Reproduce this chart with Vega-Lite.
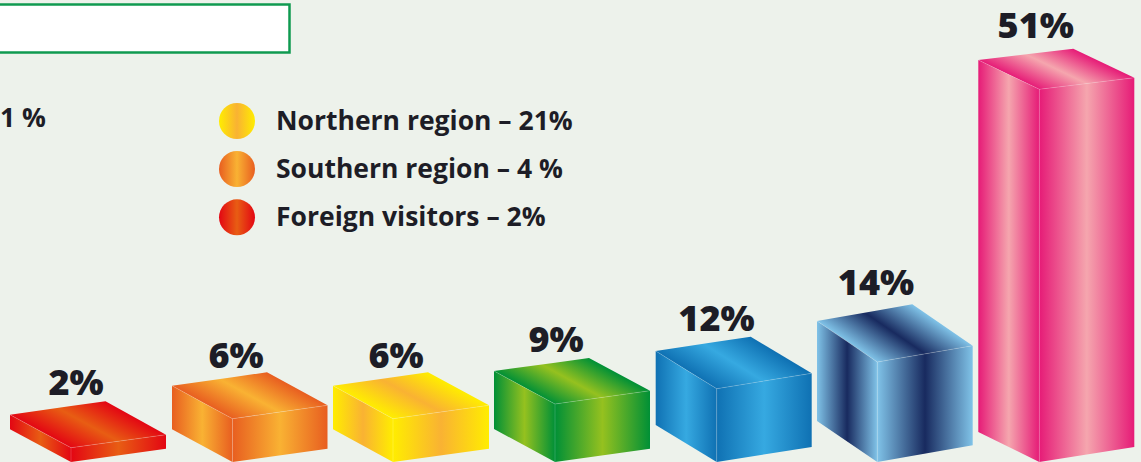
{"$schema":"https://vega.github.io/schema/vega-lite/v6.json","width":1141,"height":462,"padding":0,"autosize":"none","background":"#edf2eb","config":{"view":{"stroke":null}},
"datasets":{
"faces":[
{"id":"a_t","x":10,"y":414.7,"y2":414.7},{"id":"a_t","x":71,"y":406.1,"y2":447.7},{"id":"a_t","x":105.5,"y":401.3,"y2":443.0},{"id":"a_t","x":166,"y":434.7,"y2":434.7},
{"id":"a_l","x":10,"y":414.7,"y2":429.3},{"id":"a_l","x":71,"y":447.7,"y2":462},
{"id":"a_r","x":71,"y":447.7,"y2":462},{"id":"a_r","x":166,"y":434.7,"y2":448.7},
{"id":"b_t","x":172,"y":385.7,"y2":385.7},{"id":"b_t","x":232.5,"y":377.2,"y2":418.7},{"id":"b_t","x":267,"y":372.3,"y2":413.8},{"id":"b_t","x":327.5,"y":405.3,"y2":405.3},
{"id":"b_l","x":172,"y":385.7,"y2":429.3},{"id":"b_l","x":232.5,"y":418.7,"y2":462},
{"id":"b_r","x":232.5,"y":418.7,"y2":462},{"id":"b_r","x":327.5,"y":405.3,"y2":448.7},
{"id":"c_t","x":333,"y":385.7,"y2":385.7},{"id":"c_t","x":393,"y":377.2,"y2":418.7},{"id":"c_t","x":428,"y":372.3,"y2":413.8},{"id":"c_t","x":489,"y":405.3,"y2":405.3},
{"id":"c_l","x":333,"y":385.7,"y2":429.3},{"id":"c_l","x":393,"y":418.7,"y2":462},
{"id":"c_r","x":393,"y":418.7,"y2":462},{"id":"c_r","x":489,"y":405.3,"y2":448.7},
{"id":"d_t","x":494,"y":371,"y2":371},{"id":"d_t","x":555,"y":362.7,"y2":404},{"id":"d_t","x":589,"y":358,"y2":399.2},{"id":"d_t","x":650,"y":390.7,"y2":390.7},
{"id":"d_l","x":494,"y":371,"y2":429},{"id":"d_l","x":555,"y":404,"y2":462},
{"id":"d_r","x":555,"y":404,"y2":462},{"id":"d_r","x":650,"y":390.7,"y2":448.7},
{"id":"e_t","x":655.7,"y":351,"y2":351},{"id":"e_t","x":716.7,"y":341.8,"y2":388.7},{"id":"e_t","x":750.7,"y":336.7,"y2":383.2},{"id":"e_t","x":811.7,"y":373.3,"y2":373.3},
{"id":"e_l","x":655.7,"y":351,"y2":425},{"id":"e_l","x":716.7,"y":388.7,"y2":462},
{"id":"e_r","x":716.7,"y":388.7,"y2":462},{"id":"e_r","x":811.7,"y":373.3,"y2":447},
{"id":"f_t","x":817,"y":321,"y2":321},{"id":"f_t","x":877.3,"y":310.4,"y2":362},{"id":"f_t","x":912.3,"y":304.3,"y2":356},{"id":"f_t","x":972.7,"y":345.7,"y2":345.7},
{"id":"f_l","x":817,"y":321,"y2":421},{"id":"f_l","x":877.3,"y":362,"y2":462},
{"id":"f_r","x":877.3,"y":362,"y2":462},{"id":"f_r","x":972.7,"y":345.7,"y2":445.3},
{"id":"g_t","x":978.3,"y":60,"y2":60},{"id":"g_t","x":1039.3,"y":52.7,"y2":89.3},{"id":"g_t","x":1073.3,"y":48.7,"y2":85.2},{"id":"g_t","x":1134.3,"y":77.7,"y2":77.7},
{"id":"g_l","x":978.3,"y":60,"y2":432},{"id":"g_l","x":1039.3,"y":89.3,"y2":462},
{"id":"g_r","x":1039.3,"y":89.3,"y2":462},{"id":"g_r","x":1134.3,"y":77.7,"y2":447}
],
"edges":[
{"e":"a1","i":1,"x":10,"y":414.7},{"e":"a1","i":2,"x":71,"y":447.7},{"e":"a1","i":3,"x":166,"y":434.7},{"e":"a2","i":1,"x":71,"y":447.7},{"e":"a2","i":2,"x":71,"y":462},
{"e":"b1","i":1,"x":172,"y":385.7},{"e":"b1","i":2,"x":232.5,"y":418.7},{"e":"b1","i":3,"x":327.5,"y":405.3},{"e":"b2","i":1,"x":232.5,"y":418.7},{"e":"b2","i":2,"x":232.5,"y":462},
{"e":"c1","i":1,"x":333,"y":385.7},{"e":"c1","i":2,"x":393,"y":418.7},{"e":"c1","i":3,"x":489,"y":405.3},{"e":"c2","i":1,"x":393,"y":418.7},{"e":"c2","i":2,"x":393,"y":462},
{"e":"d1","i":1,"x":494,"y":371},{"e":"d1","i":2,"x":555,"y":404},{"e":"d1","i":3,"x":650,"y":390.7},{"e":"d2","i":1,"x":555,"y":404},{"e":"d2","i":2,"x":555,"y":462},
{"e":"e1","i":1,"x":655.7,"y":351},{"e":"e1","i":2,"x":716.7,"y":388.7},{"e":"e1","i":3,"x":811.7,"y":373.3},{"e":"e2","i":1,"x":716.7,"y":388.7},{"e":"e2","i":2,"x":716.7,"y":462},
{"e":"f1","i":1,"x":817,"y":321},{"e":"f1","i":2,"x":877.3,"y":362},{"e":"f1","i":3,"x":972.7,"y":345.7},{"e":"f2","i":1,"x":877.3,"y":362},{"e":"f2","i":2,"x":877.3,"y":462},
{"e":"g1","i":1,"x":978.3,"y":60},{"e":"g1","i":2,"x":1039.3,"y":89.3},{"e":"g1","i":3,"x":1134.3,"y":77.7},{"e":"g2","i":1,"x":1039.3,"y":89.3},{"e":"g2","i":2,"x":1039.3,"y":462}
],
"bars":[{"t":"2%","x":76,"y":395},{"t":"6%","x":236,"y":368},{"t":"6%","x":396,"y":368},{"t":"9%","x":556,"y":352},{"t":"12%","x":716.5,"y":331},{"t":"14%","x":876,"y":295},{"t":"51%","x":1035.7,"y":38}],
"legend":[{"t":"Northern region – 21%","x":276,"y":130,"cx":237,"cy":121,"k":"n"},{"t":"Southern region – 4 %","x":276,"y":178,"cx":237,"cy":169,"k":"s"},{"t":"Foreign visitors – 2%","x":276,"y":225.5,"cx":237,"cy":217.3,"k":"f"}],
"stub":[{"t":"1 %","x":0,"y":126.5}],
"box":[{"x":-5,"x2":289.5,"y":4.5,"y2":52.5}]
},
"data":{"name":"faces"},
"encoding":{"x":{"field":"x","type":"quantitative","axis":null,"scale":{"domain":[0,1141],"nice":false,"zero":false}},"y":{"field":"y","type":"quantitative","axis":null,"scale":{"domain":[462,0],"nice":false,"zero":false}}},
"layer":[
{"data":{"name":"box"},"mark":{"type":"rect","fill":"#ffffff","stroke":"#0f9a50","strokeWidth":2.5},"encoding":{"x2":{"field":"x2"},"y2":{"field":"y2"}}},

{"transform":[{"filter":"datum.id=='a_t'"}],"mark":{"type":"area","orient":"vertical","fill":{"gradient":"linear","x1":0,"y1":0.289,"x2":0.591,"y2":-0.034,"stops":[{"offset":0,"color":"#e30613"},{"offset":0.5,"color":"#e85d13"},{"offset":1,"color":"#e30613"}]}},"encoding":{"y2":{"field":"y2"}}},
{"transform":[{"filter":"datum.id=='a_l'"}],"mark":{"type":"area","orient":"vertical","fill":{"gradient":"linear","x1":0,"y1":0,"x2":1,"y2":0,"stops":[{"offset":0,"color":"#e30613"},{"offset":0.5,"color":"#e85d13"},{"offset":1,"color":"#e30613"}]}},"encoding":{"y2":{"field":"y2"}}},
{"transform":[{"filter":"datum.id=='a_r'"}],"mark":{"type":"area","orient":"vertical","fill":{"gradient":"linear","x1":0,"y1":0,"x2":1,"y2":0,"stops":[{"offset":0,"color":"#e30613"},{"offset":0.5,"color":"#e85d13"},{"offset":1,"color":"#e30613"}]}},"encoding":{"y2":{"field":"y2"}}},

{"transform":[{"filter":"datum.id=='b_t'"}],"mark":{"type":"area","orient":"vertical","fill":{"gradient":"linear","x1":0,"y1":0.289,"x2":0.591,"y2":-0.034,"stops":[{"offset":0,"color":"#e85e20"},{"offset":0.5,"color":"#f9b233"},{"offset":1,"color":"#e85e20"}]}},"encoding":{"y2":{"field":"y2"}}},
{"transform":[{"filter":"datum.id=='b_l'"}],"mark":{"type":"area","orient":"vertical","fill":{"gradient":"linear","x1":0,"y1":0,"x2":1,"y2":0,"stops":[{"offset":0,"color":"#e85e20"},{"offset":0.5,"color":"#f9b233"},{"offset":1,"color":"#e85e20"}]}},"encoding":{"y2":{"field":"y2"}}},
{"transform":[{"filter":"datum.id=='b_r'"}],"mark":{"type":"area","orient":"vertical","fill":{"gradient":"linear","x1":0,"y1":0,"x2":1,"y2":0,"stops":[{"offset":0,"color":"#e85e20"},{"offset":0.5,"color":"#f9b233"},{"offset":1,"color":"#e85e20"}]}},"encoding":{"y2":{"field":"y2"}}},

{"transform":[{"filter":"datum.id=='c_t'"}],"mark":{"type":"area","orient":"vertical","fill":{"gradient":"linear","x1":0,"y1":0.289,"x2":0.591,"y2":-0.034,"stops":[{"offset":0,"color":"#ffed00"},{"offset":0.5,"color":"#f9b233"},{"offset":1,"color":"#ffed00"}]}},"encoding":{"y2":{"field":"y2"}}},
{"transform":[{"filter":"datum.id=='c_l'"}],"mark":{"type":"area","orient":"vertical","fill":{"gradient":"linear","x1":0,"y1":0,"x2":1,"y2":0,"stops":[{"offset":0,"color":"#ffed00"},{"offset":0.5,"color":"#f9b233"},{"offset":1,"color":"#ffed00"}]}},"encoding":{"y2":{"field":"y2"}}},
{"transform":[{"filter":"datum.id=='c_r'"}],"mark":{"type":"area","orient":"vertical","fill":{"gradient":"linear","x1":0,"y1":0,"x2":1,"y2":0,"stops":[{"offset":0,"color":"#ffed00"},{"offset":0.5,"color":"#f9b233"},{"offset":1,"color":"#ffed00"}]}},"encoding":{"y2":{"field":"y2"}}},

{"transform":[{"filter":"datum.id=='d_t'"}],"mark":{"type":"area","orient":"vertical","fill":{"gradient":"linear","x1":0,"y1":0.283,"x2":0.59,"y2":-0.036,"stops":[{"offset":0,"color":"#009036"},{"offset":0.5,"color":"#95c11f"},{"offset":1,"color":"#009036"}]}},"encoding":{"y2":{"field":"y2"}}},
{"transform":[{"filter":"datum.id=='d_l'"}],"mark":{"type":"area","orient":"vertical","fill":{"gradient":"linear","x1":0,"y1":0,"x2":1,"y2":0,"stops":[{"offset":0,"color":"#009036"},{"offset":0.5,"color":"#95c11f"},{"offset":1,"color":"#009036"}]}},"encoding":{"y2":{"field":"y2"}}},
{"transform":[{"filter":"datum.id=='d_r'"}],"mark":{"type":"area","orient":"vertical","fill":{"gradient":"linear","x1":0,"y1":0,"x2":1,"y2":0,"stops":[{"offset":0,"color":"#009036"},{"offset":0.5,"color":"#95c11f"},{"offset":1,"color":"#009036"}]}},"encoding":{"y2":{"field":"y2"}}},

{"transform":[{"filter":"datum.id=='e_t'"}],"mark":{"type":"area","orient":"vertical","fill":{"gradient":"linear","x1":0,"y1":0.275,"x2":0.587,"y2":-0.042,"stops":[{"offset":0,"color":"#0f71b3"},{"offset":0.5,"color":"#36a9e1"},{"offset":1,"color":"#0f71b3"}]}},"encoding":{"y2":{"field":"y2"}}},
{"transform":[{"filter":"datum.id=='e_l'"}],"mark":{"type":"area","orient":"vertical","fill":{"gradient":"linear","x1":0,"y1":0,"x2":1,"y2":0,"stops":[{"offset":0,"color":"#0f71b3"},{"offset":0.5,"color":"#36a9e1"},{"offset":1,"color":"#0f71b3"}]}},"encoding":{"y2":{"field":"y2"}}},
{"transform":[{"filter":"datum.id=='e_r'"}],"mark":{"type":"area","orient":"vertical","fill":{"gradient":"linear","x1":0,"y1":0,"x2":1,"y2":0,"stops":[{"offset":0,"color":"#0f71b3"},{"offset":0.5,"color":"#36a9e1"},{"offset":1,"color":"#0f71b3"}]}},"encoding":{"y2":{"field":"y2"}}},

{"transform":[{"filter":"datum.id=='f_t'"}],"mark":{"type":"area","orient":"vertical","fill":{"gradient":"linear","x1":0,"y1":0.289,"x2":0.594,"y2":-0.034,"stops":[{"offset":0,"color":"#80c3e8"},{"offset":0.5,"color":"#182a5f"},{"offset":1,"color":"#80c3e8"}]}},"encoding":{"y2":{"field":"y2"}}},
{"transform":[{"filter":"datum.id=='f_l'"}],"mark":{"type":"area","orient":"vertical","fill":{"gradient":"linear","x1":0,"y1":0,"x2":1,"y2":0,"stops":[{"offset":0,"color":"#80c3e8"},{"offset":0.5,"color":"#182a5f"},{"offset":1,"color":"#80c3e8"}]}},"encoding":{"y2":{"field":"y2"}}},
{"transform":[{"filter":"datum.id=='f_r'"}],"mark":{"type":"area","orient":"vertical","fill":{"gradient":"linear","x1":0,"y1":0,"x2":1,"y2":0,"stops":[{"offset":0,"color":"#80c3e8"},{"offset":0.5,"color":"#182a5f"},{"offset":1,"color":"#80c3e8"}]}},"encoding":{"y2":{"field":"y2"}}},

{"transform":[{"filter":"datum.id=='g_t'"}],"mark":{"type":"area","orient":"vertical","fill":{"gradient":"linear","x1":0,"y1":0.278,"x2":0.588,"y2":-0.04,"stops":[{"offset":0,"color":"#e61b77"},{"offset":0.5,"color":"#f5a6ae"},{"offset":1,"color":"#e61b77"}]}},"encoding":{"y2":{"field":"y2"}}},
{"transform":[{"filter":"datum.id=='g_l'"}],"mark":{"type":"area","orient":"vertical","fill":{"gradient":"linear","x1":0,"y1":0,"x2":1,"y2":0,"stops":[{"offset":0,"color":"#e61b77"},{"offset":0.5,"color":"#f5a6ae"},{"offset":1,"color":"#e61b77"}]}},"encoding":{"y2":{"field":"y2"}}},
{"transform":[{"filter":"datum.id=='g_r'"}],"mark":{"type":"area","orient":"vertical","fill":{"gradient":"linear","x1":0,"y1":0,"x2":1,"y2":0,"stops":[{"offset":0,"color":"#e61b77"},{"offset":0.5,"color":"#f5a6ae"},{"offset":1,"color":"#e61b77"}]}},"encoding":{"y2":{"field":"y2"}}},

{"data":{"name":"edges"},"mark":{"type":"line","stroke":"#ffffff","strokeWidth":0.6,"strokeOpacity":0.3},"encoding":{"detail":{"field":"e"},"order":{"field":"i","type":"quantitative"}}},

{"data":{"name":"bars"},"mark":{"type":"text","font":"Open Sans","fontWeight":800,"fontSize":36,"fill":"#1d1d26","align":"center","baseline":"alphabetic"},"encoding":{"text":{"field":"t"}}},
{"data":{"name":"legend"},"mark":{"type":"text","font":"Open Sans","fontWeight":"bold","fontSize":26.5,"fill":"#1d1d26","align":"left","baseline":"alphabetic"},"encoding":{"text":{"field":"t"}}},
{"data":{"name":"stub"},"mark":{"type":"text","font":"Open Sans","fontWeight":"bold","fontSize":26.5,"fill":"#1d1d26","align":"left","baseline":"alphabetic"},"encoding":{"text":{"field":"t"}}},

{"data":{"name":"legend"},"transform":[{"filter":"datum.k=='n'"}],"mark":{"type":"circle","size":1296,"opacity":1,"fill":{"gradient":"linear","x1":0,"y1":0,"x2":1,"y2":0,"stops":[{"offset":0,"color":"#ffed00"},{"offset":0.5,"color":"#f9b233"},{"offset":1,"color":"#ffed00"}]}},"encoding":{"x":{"field":"cx","type":"quantitative"},"y":{"field":"cy","type":"quantitative"}}},
{"data":{"name":"legend"},"transform":[{"filter":"datum.k=='s'"}],"mark":{"type":"circle","size":1296,"opacity":1,"fill":{"gradient":"linear","x1":0,"y1":0,"x2":1,"y2":0,"stops":[{"offset":0,"color":"#e85e20"},{"offset":0.5,"color":"#f9b233"},{"offset":1,"color":"#e85e20"}]}},"encoding":{"x":{"field":"cx","type":"quantitative"},"y":{"field":"cy","type":"quantitative"}}},
{"data":{"name":"legend"},"transform":[{"filter":"datum.k=='f'"}],"mark":{"type":"circle","size":1296,"opacity":1,"fill":{"gradient":"linear","x1":0,"y1":0,"x2":1,"y2":0,"stops":[{"offset":0,"color":"#e30613"},{"offset":0.5,"color":"#e85d13"},{"offset":1,"color":"#e30613"}]}},"encoding":{"x":{"field":"cx","type":"quantitative"},"y":{"field":"cy","type":"quantitative"}}}
]}
